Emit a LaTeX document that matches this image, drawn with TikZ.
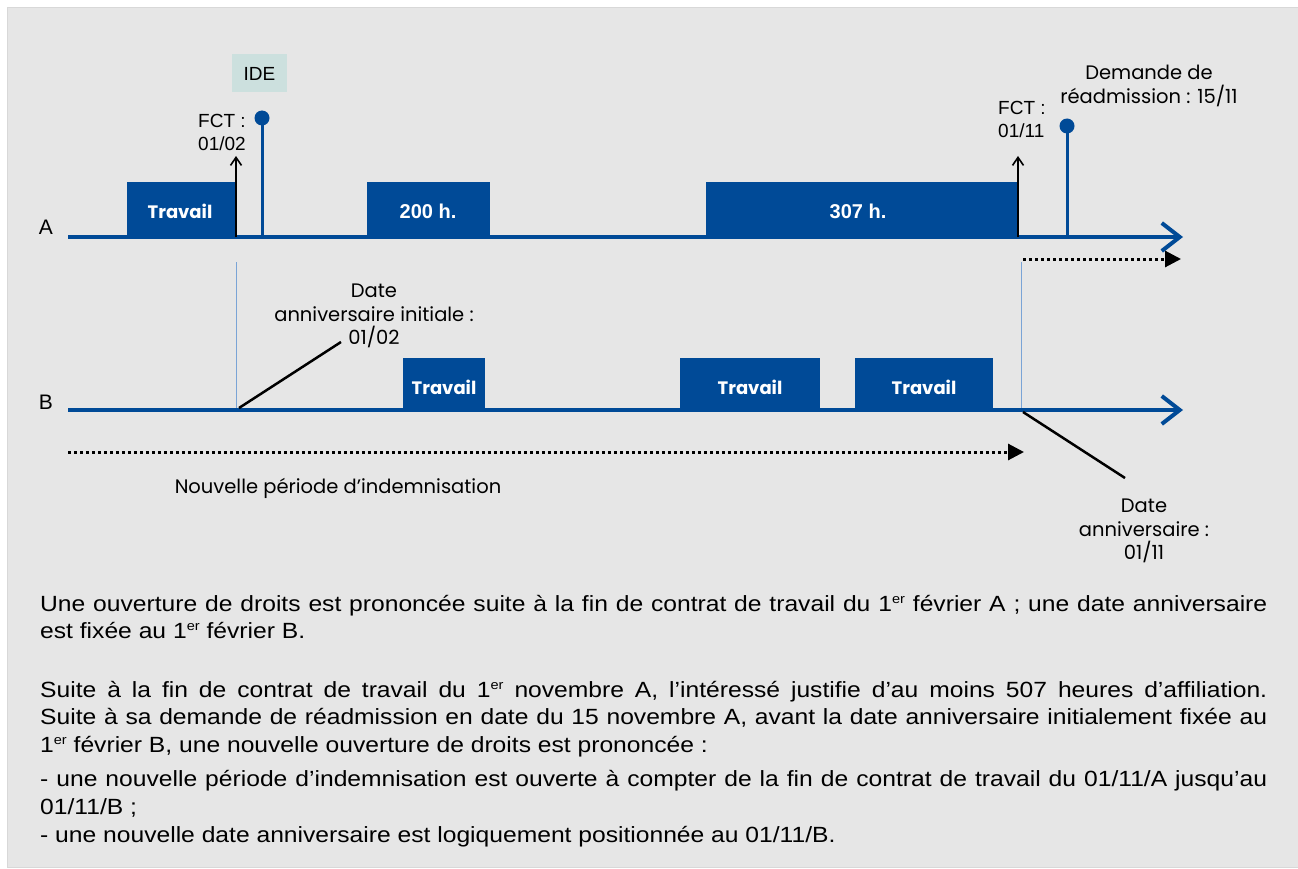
\documentclass[tikz,border=0pt]{standalone}
\usepackage{fontspec}
\setmainfont{Liberation Sans}
\newfontfamily\bodyfont[FakeStretch=1.12]{Liberation Sans}
\newfontfamily\geofont{Poppins}
\usetikzlibrary{arrows.meta}
\newcommand\myer{\raisebox{7.5pt}{\fontsize{13}{13}\selectfont er}}
\definecolor{navy}{RGB}{0,74,151}
\definecolor{panel}{RGB}{230,230,230}
\definecolor{paneledge}{RGB}{216,216,216}
\definecolor{guidecol}{RGB}{122,164,214}
\definecolor{idefill}{RGB}{204,224,222}
\tikzset{
  timeline/.style={draw=navy, line width=4pt, -{Straight Barb[length=18pt,width=28pt,line width=4pt]}},
  workbox/.style={fill=navy, inner sep=0pt, anchor=south west, text=white},
  travailtext/.style={font={\geofont\bfseries\fontsize{18}{20}\selectfont}},
  hourtext/.style={font={\bfseries\fontsize{20}{22}\selectfont}},
  fctarrow/.style={draw=black, line width=2.5pt, -{Straight Barb[length=8pt,width=11pt,line width=1.6pt]}},
  stem/.style={draw=navy, line width=3pt},
  dotnode/.style={circle, fill=navy, inner sep=0pt, minimum size=15pt},
  guideline/.style={draw=guidecol, line width=1pt},
  dottedarrow/.style={draw=black, line width=3pt, dash pattern=on 3pt off 3pt, -{Triangle[length=16pt,width=16pt]}},
  pointer/.style={draw=black, line width=2.5pt},
  geolabel/.style={align=center, inner sep=0pt, font={\geofont\fontsize{19.5}{23.5}\selectfont}},
  sanslabel/.style={align=left, inner sep=0pt, anchor=west, font={\fontsize{19}{23}\selectfont}},
  axislabel/.style={inner sep=0pt, font={\fontsize{21}{24}\selectfont}},
  bodyline/.style={anchor=base west, inner sep=0pt, font={\bodyfont\fontsize{22}{24}\selectfont}},
}
\begin{document}
\begin{tikzpicture}[x=1pt,y=-1pt]
\useasboundingbox (0,0) rectangle (1298,869);
\fill[white] (0,0) rectangle (1298,869);
\filldraw[fill=panel, draw=paneledge, line width=1pt] (7,8) rectangle (1299,867);

% ---------- timeline A ----------
\coordinate (tlA0) at (68,237);
\coordinate (tlA1) at (1183,237);
\draw[timeline] (tlA0) -- (tlA1);
\node[axislabel] (labA) at (46,227) {A};

\node[workbox, minimum width=109pt, minimum height=55pt] (a1) at (127,237) {};
\node[travailtext, text=white] (a1t) at (180,211) {Travail};
\node[workbox, minimum width=123pt, minimum height=55pt] (a2) at (367,237) {};
\node[hourtext, text=white] (a2t) at (428,211) {200 h.};
\node[workbox, minimum width=312pt, minimum height=55pt] (a3) at (706,237) {};
\node[hourtext, text=white] (a3t) at (858,211) {307 h.};

% FCT 01/02
\coordinate (fctA0) at (236,237);
\coordinate (fctA1) at (236,156);
\draw[fctarrow] (fctA0) -- (fctA1);
\node[sanslabel] (fctAlab) at (198,132) {FCT :\\01/02};

% IDE lollipop
\coordinate (ideBase) at (262,237);
\node[dotnode] (ideDot) at (262,118) {};
\draw[stem] (ideBase) -- (ideDot.center);
\node[fill=idefill, minimum width=55pt, minimum height=38pt, inner sep=0pt,
      font={\fontsize{19}{22}\selectfont}] (ide) at (259.5,73.5) {IDE};

% FCT 01/11
\coordinate (fctB0) at (1018,237);
\coordinate (fctB1) at (1018,156);
\draw[fctarrow] (fctB0) -- (fctB1);
\node[sanslabel] (fctBlab) at (998,119) {FCT :\\01/11};

% Demande de readmission
\coordinate (demBase) at (1067,237);
\node[dotnode] (demDot) at (1067,126) {};
\draw[stem] (demBase) -- (demDot.center);
\node[geolabel] (demLab) at (1149,86) {Demande de\\réadmission : 15/11};

% dotted arrow after A
\coordinate (dotA0) at (1023,259);
\coordinate (dotA1) at (1181,259);
\draw[dottedarrow] (dotA0) -- (dotA1);

% guides
\coordinate (g1a) at (236,262);
\coordinate (g1b) at (236,410);
\coordinate (g2a) at (1021,262);
\coordinate (g2b) at (1021,410);
\draw[guideline] (g1a) -- (g1b);
\draw[guideline] (g2a) -- (g2b);

% ---------- timeline B ----------
\coordinate (tlB0) at (68,410);
\coordinate (tlB1) at (1183,410);
\draw[timeline] (tlB0) -- (tlB1);
\node[axislabel] (labB) at (46,402) {B};

\node[workbox, minimum width=82pt, minimum height=52pt] (b1) at (403,410) {};
\node[travailtext, text=white] (b1t) at (444,387) {Travail};
\node[workbox, minimum width=140pt, minimum height=52pt] (b2) at (680,410) {};
\node[travailtext, text=white] (b2t) at (750,387) {Travail};
\node[workbox, minimum width=138pt, minimum height=52pt] (b3) at (855,410) {};
\node[travailtext, text=white] (b3t) at (924,387) {Travail};

% pointer to initial anniversary date
\coordinate (p1a) at (239,408);
\coordinate (p1b) at (341,342);
\draw[pointer] (p1a) -- (p1b);
\node[geolabel] (daInit) at (374,316) {Date\\anniversaire initiale :\\01/02};

% pointer to new anniversary date
\coordinate (p2a) at (1023,412);
\coordinate (p2b) at (1125,478);
\draw[pointer] (p2a) -- (p2b);
\node[geolabel] (daNew) at (1144,531) {Date\\anniversaire :\\01/11};

% dotted arrow B
\coordinate (dotB0) at (68,452);
\coordinate (dotB1) at (1024,452);
\draw[dottedarrow] (dotB0) -- (dotB1);
\node[geolabel] (periode) at (338,488) {Nouvelle période d’indemnisation};

% ---------- text ----------
\node[bodyline] (t1) at (40,611) {\hbox to 1227pt{Une ouverture de droits est prononcée suite à la fin de contrat de travail du 1\myer{} février A ; une date anniversaire}};
\node[bodyline] (t2) at (40,638) {est fixée au 1\myer{} février B.};
\node[bodyline] (t3) at (40,697) {\hbox to 1227pt{Suite à la fin de contrat de travail du 1\myer{} novembre A, l’intéressé justifie d’au moins 507 heures d’affiliation.}};
\node[bodyline] (t4) at (40,724) {\hbox to 1227pt{Suite à sa demande de réadmission en date du 15 novembre A, avant la date anniversaire initialement fixée au}};
\node[bodyline] (t5) at (40,752) {1\myer{} février B, une nouvelle ouverture de droits est prononcée :};
\node[bodyline] (t6) at (40,786) {\hbox to 1227pt{- une nouvelle période d’indemnisation est ouverte à compter de la fin de contrat de travail du 01/11/A jusqu’au}};
\node[bodyline] (t7) at (40,814) {01/11/B ;};
\node[bodyline] (t8) at (40,842) {- une nouvelle date anniversaire est logiquement positionnée au 01/11/B.};
\end{tikzpicture}
\end{document}
